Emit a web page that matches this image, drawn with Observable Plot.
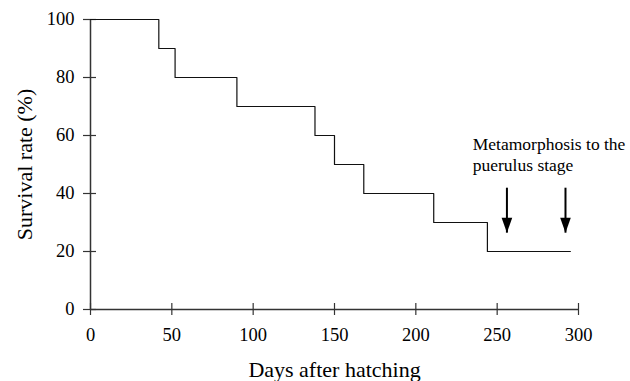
<!DOCTYPE html>
<html>
<head>
<meta charset="utf-8">
<script src="https://cdn.jsdelivr.net/npm/d3@7"></script>
<script src="https://cdn.jsdelivr.net/npm/@observablehq/plot@0.6"></script>
<style>
  html, body { margin: 0; padding: 0; background: #fff; }
</style>
</head>
<body>
<div id="chart"></div>
<script>
// Days at which the survival rate changes (step-after), and survival (%)
const days = [0, 42, 52, 90, 138, 150, 168, 211, 244, 295];
const survival = [100, 90, 80, 70, 60, 50, 40, 30, 20, 20];

// Arrows marking metamorphosis to the puerulus stage
const arrowDays = [256, 292];
const arrowTop = 42;
const arrowTip = 26.5;

// Annotation
const annotText = "Metamorphosis to the\npuerulus stage";
const annotDay = 235;
const annotY = 60;

// Axis ticks and labels
const xTicks = [0, 50, 100, 150, 200, 250, 300];
const yTicks = [0, 20, 40, 60, 80, 100];
const xLabel = "Days after hatching";
const yLabel = "Survival rate (%)";

const series = days.map((d, i) => ({day: d, survival: survival[i]}));
const arrows = arrowDays.map(d => ({day: d, top: arrowTop, tip: arrowTip}));

// Elongated downward-pointing triangle whose tip is at the anchor point
const arrowHead = {
  draw(context, size) {
    const s = Math.sqrt(size);
    const hw = s * 0.5, h = s * 1.4;
    context.moveTo(0, 0);
    context.lineTo(-hw, -h);
    context.lineTo(hw, -h);
    context.closePath();
  }
};

const chart = Plot.plot({
  width: 630,
  height: 381,
  marginLeft: 90,
  marginRight: 52,
  marginTop: 19,
  marginBottom: 72,
  style: {fontFamily: "'Liberation Serif', 'Times New Roman', serif", fontSize: "18px", background: "#fff", color: "#000"},
  x: {domain: [0, 300]},
  y: {domain: [0, 100]},
  marks: [
    // axis lines
    Plot.ruleY([0], {stroke: "#333", strokeWidth: 1.5}),
    Plot.ruleX([0], {stroke: "#333", strokeWidth: 1.5}),
    // crossing ticks
    Plot.axisY({ticks: yTicks, tickSize: 13, dx: 6, tickFormat: () => "", label: null, stroke: "#333", strokeWidth: 1.2}),
    Plot.axisX({ticks: xTicks, tickSize: 12, dy: -6, tickFormat: () => "", label: null, stroke: "#333", strokeWidth: 1.2}),
    // tick labels
    Plot.axisY({ticks: yTicks, tickSize: 0, tickPadding: 16, label: null, fontSize: 18.5}),
    Plot.axisX({ticks: xTicks, tickSize: 0, tickPadding: 18, label: null, fontSize: 18.5}),
    // axis titles
    Plot.text([yLabel], {frameAnchor: "left", rotate: -90, dx: -66, fontSize: 22, textAnchor: "middle", lineAnchor: "middle"}),
    Plot.text([xLabel], {frameAnchor: "bottom", dy: 60, fontSize: 22, textAnchor: "middle", lineAnchor: "middle"}),
    // survival step line
    Plot.line(series, {x: "day", y: "survival", curve: "step-after", stroke: "#111", strokeWidth: 1.2}),
    // arrows
    Plot.link(arrows, {x1: "day", x2: "day", y1: "top", y2: "tip", stroke: "#000", strokeWidth: 2}),
    Plot.dot(arrows, {x: "day", y: "tip", symbol: arrowHead, r: 6, fill: "#000", stroke: null}),
    // annotation
    Plot.text([annotText], {x: () => annotDay, y: () => annotY, textAnchor: "start", lineAnchor: "top", fontSize: 17.5, lineHeight: 1.2})
  ]
});

document.getElementById("chart").appendChild(chart);
</script>
</body>
</html>
